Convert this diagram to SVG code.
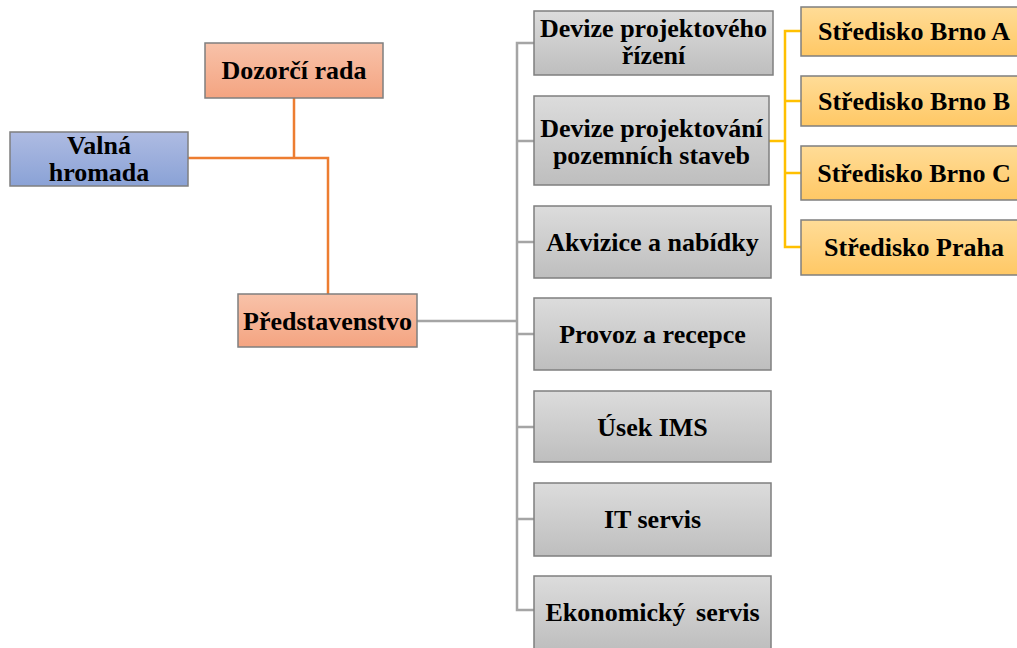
<svg xmlns="http://www.w3.org/2000/svg" width="1017" height="648" viewBox="0 0 1017 648">
<defs>
<linearGradient id="gSal" x1="0" y1="0" x2="0" y2="1"><stop offset="0" stop-color="#F8C2A9"/><stop offset="1" stop-color="#F4A481"/></linearGradient>
<linearGradient id="gBlue" x1="0" y1="0" x2="0" y2="1"><stop offset="0" stop-color="#AEBBE2"/><stop offset="1" stop-color="#8AA2D6"/></linearGradient>
<linearGradient id="gGray" x1="0" y1="0" x2="0" y2="1"><stop offset="0" stop-color="#DCDCDC"/><stop offset="1" stop-color="#BEBEBE"/></linearGradient>
<linearGradient id="gYel" x1="0" y1="0" x2="0" y2="1"><stop offset="0" stop-color="#FFDC97"/><stop offset="1" stop-color="#FFC865"/></linearGradient>
</defs>
<style>
.s,.b,.g,.y{stroke:#7F7F7F;stroke-width:1.5}
.s{fill:url(#gSal)}.b{fill:url(#gBlue)}.g{fill:url(#gGray)}.y{fill:url(#gYel)}
text{font-family:"Liberation Serif","Times New Roman",serif;font-weight:bold;font-size:26px;fill:#000;text-anchor:middle}
.c path{fill:none;stroke-width:2.5}
.o{stroke:#ED7D31}.gr{stroke:#A5A5A5}.ye{stroke:#FFC000}
</style>
<rect width="1017" height="648" fill="#fff"/>
<g class="c" id="connectors">
<path class="o" d="M294,98V158M188,158H328V294"/>
<path class="gr" d="M417,321H517M534,43H517V610H534M517,141H534M517,242H534M517,334H534M517,427H534M517,519H534"/>
<path class="ye" d="M769,141H785M801,31H785V247H801M785,101H801M785,173H801"/>
</g>
<g id="valna"><rect class="b" x="10" y="132" width="178" height="54"/><text x="99" y="154">Valná</text><text x="99" y="181">hromada</text></g>
<g id="dozorci"><rect class="s" x="205" y="43" width="178" height="55"/><text x="294" y="79">Dozorčí rada</text></g>
<g id="predstavenstvo"><rect class="s" x="238" y="294" width="179" height="53"/><text x="327.5" y="330">Představenstvo</text></g>
<g id="dpr"><rect class="g" x="534" y="11" width="239" height="64"/><text x="653.5" y="37">Devize projektového</text><text x="653.5" y="64">řízení</text></g>
<g id="dps"><rect class="g" x="534" y="96" width="235" height="89"/><text x="651.5" y="137">Devize projektování</text><text x="651.5" y="164">pozemních staveb</text></g>
<g id="akv"><rect class="g" x="534" y="206" width="237" height="72"/><text x="652.5" y="251">Akvizice a nabídky</text></g>
<g id="prov"><rect class="g" x="534" y="298" width="237" height="72"/><text x="652.5" y="343">Provoz a recepce</text></g>
<g id="ims"><rect class="g" x="534" y="391" width="237" height="71"/><text x="652.5" y="436">Úsek IMS</text></g>
<g id="it"><rect class="g" x="534" y="483" width="237" height="73"/><text x="652.5" y="528">IT servis</text></g>
<g id="eko"><rect class="g" x="534" y="576" width="237" height="74"/><text x="652.5" y="621" word-spacing="4">Ekonomický servis</text></g>
<g id="brnoA"><rect class="y" x="801" y="7" width="227" height="49"/><text x="914" y="40">Středisko Brno A</text></g>
<g id="brnoB"><rect class="y" x="801" y="76" width="227" height="50"/><text x="914" y="110">Středisko Brno B</text></g>
<g id="brnoC"><rect class="y" x="801" y="146" width="227" height="54"/><text x="914" y="182">Středisko Brno C</text></g>
<g id="praha"><rect class="y" x="801" y="220" width="227" height="55"/><text x="914" y="256">Středisko Praha</text></g>
</svg>
